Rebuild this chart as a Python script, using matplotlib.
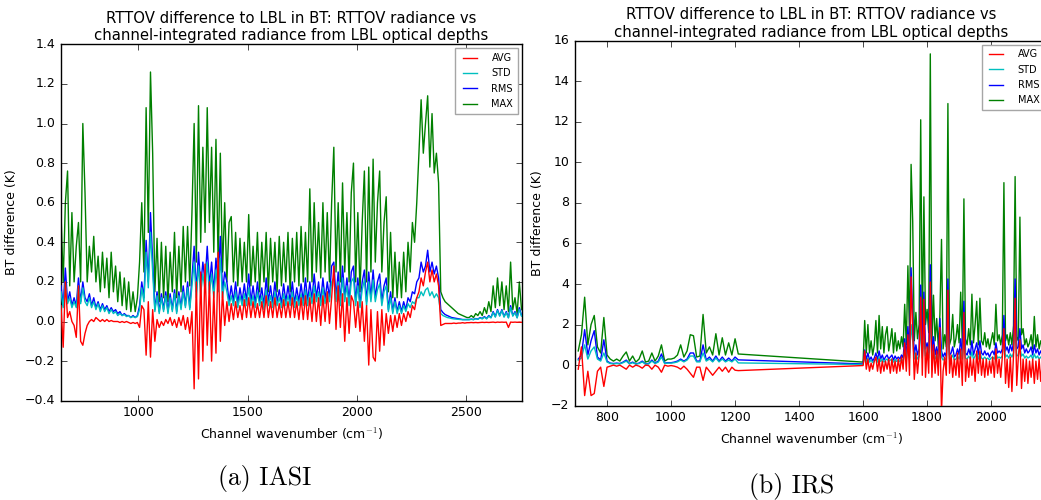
import numpy as np
import matplotlib
matplotlib.use('Agg')
import matplotlib.pyplot as plt

plt.style.use('classic')
plt.rcParams['figure.facecolor'] = 'white'
plt.rcParams['savefig.facecolor'] = 'white'

# IASI channels, one value every 10 cm-1 from 645 to 2755
iasi_wn = np.arange(645, 2760, 10)
iasi_max = [
    0.55, 0.2, 0.6, 0.76, 0.18, 0.55, 0.2, 0.38, 0.5, 0.2,
    1.0, 0.65, 0.2, 0.38, 0.25, 0.43, 0.2, 0.33, 0.15, 0.35,
    0.17, 0.32, 0.12, 0.35, 0.15, 0.28, 0.1, 0.25, 0.08, 0.22,
    0.06, 0.2, 0.05, 0.15, 0.05, 0.12, 0.3, 0.6, 0.25, 1.08,
    0.45, 1.26, 0.85, 0.15, 0.42, 0.1, 0.4, 0.12, 0.38, 0.1,
    0.35, 0.15, 0.45, 0.12, 0.38, 0.15, 0.48, 0.2, 0.48, 0.18,
    0.55, 1.0, 0.3, 1.09, 0.4, 0.88, 0.45, 1.08, 0.5, 0.88,
    0.35, 0.92, 0.3, 0.85, 0.25, 0.6, 0.2, 0.5, 0.53, 0.2,
    0.45, 0.18, 0.42, 0.2, 0.4, 0.2, 0.54, 0.18, 0.38, 0.2,
    0.45, 0.15, 0.4, 0.2, 0.45, 0.15, 0.42, 0.2, 0.4, 0.15,
    0.43, 0.18, 0.4, 0.2, 0.45, 0.15, 0.42, 0.2, 0.45, 0.18,
    0.48, 0.2, 0.45, 0.2, 0.67, 0.2, 0.6, 0.25, 0.5, 0.22,
    0.6, 0.25, 0.55, 0.2, 0.6, 0.88, 0.25, 0.6, 0.2, 0.7,
    0.25, 0.55, 0.2, 0.65, 0.8, 0.2, 0.55, 0.15, 0.5, 0.76,
    0.2, 0.78, 0.25, 0.82, 0.3, 0.6, 0.76, 0.25, 0.5, 0.63,
    0.15, 0.45, 0.12, 0.35, 0.12, 0.3, 0.12, 0.35, 0.15, 0.4,
    0.25, 0.5, 0.4, 0.6, 0.85, 1.12, 0.85, 1.0, 1.14, 0.78,
    1.05, 0.75, 0.85, 0.7, 0.15, 0.12, 0.1, 0.09, 0.08, 0.07,
    0.06, 0.05, 0.04, 0.035, 0.03, 0.025, 0.02, 0.02, 0.03, 0.02,
    0.04, 0.03, 0.05, 0.03, 0.07, 0.04, 0.1, 0.05, 0.18, 0.07,
    0.22, 0.08, 0.2, 0.06, 0.18, 0.05, 0.3, 0.06, 0.12, 0.04,
    0.2, 0.06,
]
iasi_rms = [
    0.18, 0.08, 0.27, 0.1, 0.15, 0.08, 0.12, 0.08, 0.22, 0.1,
    0.2, 0.12, 0.1, 0.14, 0.08, 0.12, 0.07, 0.1, 0.06, 0.09,
    0.06, 0.08, 0.05, 0.07, 0.05, 0.06, 0.04, 0.05, 0.03, 0.04,
    0.03, 0.03, 0.02, 0.03, 0.02, 0.03, 0.08, 0.2, 0.12, 0.41,
    0.2, 0.55, 0.3, 0.06, 0.15, 0.05, 0.14, 0.06, 0.15, 0.05,
    0.14, 0.06, 0.16, 0.05, 0.15, 0.07, 0.18, 0.08, 0.2, 0.07,
    0.22, 0.38, 0.15, 0.35, 0.18, 0.3, 0.2, 0.38, 0.18, 0.3,
    0.15, 0.32, 0.2, 0.43, 0.15, 0.25, 0.2, 0.1, 0.18, 0.1,
    0.2, 0.09, 0.17, 0.1, 0.19, 0.1, 0.24, 0.1, 0.18, 0.09,
    0.2, 0.1, 0.17, 0.08, 0.22, 0.1, 0.18, 0.09, 0.2, 0.1,
    0.16, 0.09, 0.19, 0.1, 0.18, 0.1, 0.2, 0.09, 0.17, 0.1,
    0.19, 0.1, 0.22, 0.1, 0.2, 0.11, 0.24, 0.12, 0.2, 0.1,
    0.22, 0.11, 0.2, 0.12, 0.28, 0.3, 0.12, 0.25, 0.1, 0.28,
    0.12, 0.22, 0.1, 0.25, 0.28, 0.1, 0.22, 0.08, 0.2, 0.26,
    0.1, 0.25, 0.12, 0.26, 0.12, 0.2, 0.24, 0.1, 0.18, 0.22,
    0.06, 0.15, 0.05, 0.12, 0.05, 0.1, 0.05, 0.1, 0.06, 0.12,
    0.1, 0.15, 0.14, 0.2, 0.22, 0.3, 0.25, 0.28, 0.36, 0.25,
    0.3, 0.24, 0.28, 0.22, 0.06, 0.045, 0.035, 0.03, 0.025, 0.02,
    0.018, 0.016, 0.014, 0.012, 0.01, 0.01, 0.01, 0.01, 0.012, 0.01,
    0.015, 0.012, 0.02, 0.015, 0.025, 0.015, 0.03, 0.02, 0.05, 0.025,
    0.06, 0.03, 0.06, 0.025, 0.05, 0.02, 0.08, 0.03, 0.05, 0.02,
    0.07, 0.03,
]
iasi_std = [
    0.15, 0.07, 0.2, 0.09, 0.12, 0.07, 0.1, 0.07, 0.18, 0.09,
    0.17, 0.1, 0.08, 0.12, 0.07, 0.1, 0.06, 0.09, 0.05, 0.08,
    0.05, 0.07, 0.04, 0.06, 0.04, 0.05, 0.03, 0.04, 0.03, 0.035,
    0.025, 0.03, 0.02, 0.025, 0.02, 0.025, 0.06, 0.17, 0.1, 0.35,
    0.17, 0.45, 0.25, 0.05, 0.13, 0.04, 0.12, 0.05, 0.13, 0.04,
    0.12, 0.05, 0.14, 0.04, 0.13, 0.06, 0.15, 0.07, 0.17, 0.06,
    0.18, 0.3, 0.12, 0.28, 0.14, 0.24, 0.16, 0.3, 0.14, 0.24,
    0.12, 0.26, 0.15, 0.32, 0.12, 0.2, 0.15, 0.08, 0.13, 0.08,
    0.15, 0.07, 0.13, 0.08, 0.14, 0.08, 0.17, 0.08, 0.13, 0.07,
    0.15, 0.08, 0.13, 0.06, 0.16, 0.08, 0.13, 0.07, 0.15, 0.08,
    0.12, 0.07, 0.14, 0.08, 0.13, 0.08, 0.15, 0.07, 0.13, 0.08,
    0.14, 0.08, 0.16, 0.08, 0.15, 0.09, 0.18, 0.1, 0.15, 0.08,
    0.17, 0.09, 0.15, 0.1, 0.2, 0.22, 0.1, 0.2, 0.08, 0.22,
    0.1, 0.18, 0.08, 0.2, 0.22, 0.08, 0.18, 0.07, 0.16, 0.21,
    0.08, 0.2, 0.1, 0.21, 0.1, 0.16, 0.19, 0.08, 0.15, 0.18,
    0.05, 0.12, 0.04, 0.1, 0.04, 0.08, 0.04, 0.08, 0.05, 0.09,
    0.07, 0.1, 0.09, 0.12, 0.12, 0.15, 0.13, 0.16, 0.17, 0.13,
    0.15, 0.12, 0.14, 0.12, 0.04, 0.03, 0.025, 0.02, 0.018, 0.015,
    0.013, 0.012, 0.011, 0.01, 0.009, 0.009, 0.009, 0.009, 0.011, 0.009,
    0.014, 0.011, 0.018, 0.013, 0.022, 0.013, 0.027, 0.018, 0.045, 0.022,
    0.055, 0.027, 0.055, 0.022, 0.045, 0.018, 0.07, 0.027, 0.045, 0.018,
    0.06, 0.027,
]
iasi_avg = [
    0.08, -0.13, 0.2, 0.02, 0.05, 0.0, -0.02, -0.08, 0.18, -0.1,
    -0.12, -0.06, -0.02, 0.0, 0.01, 0.0, 0.02, 0.01, 0.0, 0.01,
    0.0, 0.01, 0.0, 0.005, 0.0, 0.0, 0.0, -0.005, 0.0, -0.005,
    0.0, -0.005, -0.01, -0.005, -0.01, -0.005, -0.03, 0.08, 0.06, -0.17,
    0.1, -0.18, 0.06, -0.1, 0.01, -0.03, 0.0, -0.02, 0.01, -0.01,
    0.02, -0.02, 0.01, -0.03, 0.02, -0.02, 0.03, -0.04, 0.02, -0.06,
    0.05, -0.34, 0.2, -0.29, 0.25, -0.2, 0.29, -0.12, 0.2, -0.2,
    0.15, -0.16, 0.35, -0.1, 0.15, -0.02, 0.1, 0.0, 0.09, 0.01,
    0.1, 0.02, 0.08, 0.01, 0.11, 0.02, 0.12, 0.02, 0.1, 0.02,
    0.09, 0.02, 0.1, 0.02, 0.13, 0.02, 0.1, 0.02, 0.12, 0.02,
    0.09, 0.02, 0.11, 0.02, 0.1, 0.02, 0.12, 0.02, 0.1, 0.01,
    0.12, 0.01, 0.13, 0.01, 0.12, 0.0, 0.14, 0.0, 0.12, -0.02,
    0.13, 0.0, 0.15, -0.01, 0.12, 0.28, -0.04, 0.18, -0.03, 0.14,
    -0.1, 0.12, -0.06, 0.13, 0.1, -0.03, 0.1, -0.05, 0.1, -0.1,
    0.08, -0.22, 0.06, -0.18, -0.2, 0.05, -0.15, 0.06, -0.12, 0.04,
    -0.06, 0.03, -0.05, 0.03, -0.03, 0.04, -0.02, 0.04, 0.0, 0.05,
    0.02, 0.08, 0.06, 0.12, 0.15, 0.22, 0.18, 0.25, 0.3, 0.2,
    0.26, 0.2, 0.24, 0.18, -0.02, -0.015, -0.01, -0.01, -0.01, -0.01,
    -0.008, -0.01, -0.008, -0.008, -0.006, -0.008, -0.006, -0.006, -0.005, -0.006,
    -0.005, -0.006, -0.005, -0.004, -0.005, -0.004, -0.005, -0.004, -0.003, -0.005,
    -0.003, -0.004, -0.003, -0.004, -0.003, -0.03, -0.003, -0.004, -0.003, -0.004,
    -0.003, -0.004,
]

# IRS channels: 710-1210 every 10 cm-1, then 1600-2190 every 5 cm-1
irs_wn = np.concatenate([np.arange(710, 1211, 10), np.arange(1600, 2191, 5)])
irs_max = [
    0.7, 1.5, 3.35, 1.0, 2.0, 2.45, 0.9, 0.6, 2.35, 0.5,
    0.3, 0.2, 0.3, 0.2, 0.45, 0.65, 0.2, 0.45, 0.15, 0.3,
    0.7, 0.15, 0.2, 0.6, 0.2, 0.45, 1.0, 0.2, 0.3, 0.3,
    0.35, 0.5, 1.0, 0.4, 0.7, 1.5, 1.45, 0.4, 0.45, 2.5,
    0.6, 0.9, 0.5, 1.55, 0.5, 1.35, 0.5, 1.1, 0.5, 1.3,
    0.55,
    # 1600 onwards
    0.15, 2.2, 0.6, 2.0, 0.6, 1.2, 0.5, 1.0, 2.2, 0.6,
    2.45, 0.8, 1.9, 0.6, 1.5, 1.9, 0.7, 1.2, 1.8, 0.6,
    1.6, 0.7, 1.2, 0.8, 1.4, 0.9, 3.0, 1.0, 4.9, 1.5,
    9.9, 7.1, 1.2, 2.6, 1.3, 2.0, 12.1, 1.5, 8.3, 2.0,
    2.75, 1.6, 15.35, 1.0, 3.45, 1.2, 2.3, 0.9, 2.5, 6.2,
    0.8, 1.5, 0.9, 12.9, 1.0, 1.3, 2.5, 0.9, 1.3, 2.0,
    1.1, 3.6, 1.0, 8.2, 1.3, 1.0, 1.8, 1.0, 3.5, 1.1,
    2.0, 3.15, 1.0, 3.3, 1.2, 1.0, 1.6, 0.9, 1.3, 0.8,
    1.2, 1.6, 1.0, 3.0, 1.2, 1.5, 1.0, 1.5, 9.0, 1.2,
    1.5, 1.0, 1.6, 1.0, 1.95, 9.3, 1.4, 1.2, 7.3, 1.5,
    1.8, 1.0, 1.3, 0.9, 1.1, 1.5, 0.8, 2.4, 0.9, 1.5,
    0.8, 1.2, 0.9, 1.3, 0.8, 1.2, 0.9, 1.1, 0.8,
]
irs_rms = [
    0.3, 0.5, 1.75, 0.5, 1.2, 1.7, 0.4, 0.25, 1.25, 0.2,
    0.1, 0.08, 0.1, 0.08, 0.15, 0.25, 0.08, 0.15, 0.06, 0.1,
    0.2, 0.06, 0.08, 0.25, 0.1, 0.2, 0.55, 0.1, 0.12, 0.12,
    0.15, 0.2, 0.3, 0.2, 0.3, 0.6, 0.6, 0.2, 0.2, 1.0,
    0.25, 0.4, 0.2, 0.45, 0.2, 0.4, 0.2, 0.35, 0.2, 0.4,
    0.26,
    0.06, 0.75, 0.25, 0.6, 0.25, 0.4, 0.2, 0.35, 0.6, 0.25,
    0.7, 0.3, 0.5, 0.25, 0.4, 0.5, 0.3, 0.4, 0.5, 0.25,
    0.45, 0.3, 0.4, 0.3, 0.5, 0.35, 1.3, 0.4, 1.9, 0.6,
    4.8, 2.4, 0.5, 1.0, 0.5, 0.8, 3.95, 0.6, 3.6, 0.8,
    1.1, 0.6, 4.95, 0.5, 1.4, 0.5, 0.9, 0.4, 2.3, 0.7,
    0.4, 0.6, 0.4, 4.25, 0.5, 0.6, 0.9, 0.4, 0.5, 0.8,
    0.5, 1.3, 0.5, 3.15, 0.6, 0.5, 0.8, 0.5, 1.2, 0.5,
    0.8, 1.1, 0.5, 1.2, 0.6, 0.5, 0.7, 0.5, 0.6, 0.4,
    0.6, 0.7, 0.5, 1.1, 0.6, 0.7, 0.6, 0.8, 2.45, 0.7,
    0.9, 0.6, 1.0, 0.7, 1.1, 4.25, 0.8, 0.9, 1.8, 0.8,
    1.0, 0.6, 0.8, 0.6, 0.7, 0.9, 0.5, 1.0, 0.6, 0.8,
    0.5, 0.7, 0.5, 0.8, 0.5, 0.7, 0.5, 0.7, 0.5,
]
irs_std = [
    0.25, 0.35, 1.0, 0.3, 0.7, 0.9, 0.3, 0.2, 0.6, 0.15,
    0.08, 0.06, 0.08, 0.06, 0.12, 0.2, 0.06, 0.12, 0.05, 0.08,
    0.16, 0.05, 0.06, 0.2, 0.08, 0.15, 0.4, 0.08, 0.1, 0.1,
    0.12, 0.16, 0.25, 0.16, 0.25, 0.45, 0.45, 0.16, 0.16, 0.6,
    0.2, 0.3, 0.16, 0.35, 0.16, 0.3, 0.16, 0.25, 0.16, 0.3,
    0.11,
    0.03, 0.4, 0.15, 0.35, 0.15, 0.25, 0.12, 0.2, 0.35, 0.15,
    0.4, 0.18, 0.3, 0.15, 0.25, 0.3, 0.18, 0.25, 0.3, 0.15,
    0.28, 0.18, 0.25, 0.18, 0.3, 0.2, 0.7, 0.25, 1.0, 0.35,
    2.0, 1.2, 0.3, 0.6, 0.3, 0.45, 1.9, 0.35, 1.5, 0.45,
    0.6, 0.35, 2.3, 0.3, 0.7, 0.3, 0.5, 0.25, 1.2, 0.4,
    0.25, 0.35, 0.25, 2.0, 0.3, 0.35, 0.5, 0.25, 0.3, 0.45,
    0.3, 0.7, 0.3, 1.5, 0.35, 0.3, 0.45, 0.3, 0.65, 0.3,
    0.45, 0.6, 0.3, 0.65, 0.35, 0.3, 0.4, 0.3, 0.35, 0.25,
    0.35, 0.4, 0.3, 0.6, 0.35, 0.4, 0.35, 0.45, 1.2, 0.4,
    0.5, 0.35, 0.55, 0.4, 0.6, 2.0, 0.45, 0.5, 0.9, 0.45,
    0.55, 0.35, 0.45, 0.35, 0.4, 0.5, 0.3, 0.55, 0.35, 0.45,
    0.3, 0.4, 0.3, 0.45, 0.3, 0.4, 0.3, 0.4, 0.3,
]
irs_avg = [
    -0.2, 0.9, -1.5, -0.3, -1.5, -1.4, -0.3, -0.1, -1.05, -0.1,
    -0.05, 0.0, -0.05, 0.0, -0.1, -0.2, 0.0, -0.1, 0.0, -0.05,
    -0.15, 0.0, -0.02, -0.2, 0.0, -0.1, -0.35, 0.0, -0.05, -0.02,
    -0.05, -0.1, -0.2, -0.05, -0.2, -0.4, -0.6, -0.1, -0.1, -0.75,
    -0.1, -0.3, -0.5, -0.3, -0.1, -0.3, -0.1, -0.35, -0.1, -0.25,
    -0.27,
    -0.02, 0.7, -0.2, 0.3, -0.3, 0.1, -0.2, 0.2, 0.4, -0.3,
    0.3, -0.4, 0.2, -0.3, 0.2, -0.2, 0.3, -0.4, 0.3, -0.3,
    0.2, -0.4, 0.3, -0.3, 0.4, -0.2, 1.1, -0.3, 1.5, -0.5,
    4.35, 1.7, -0.7, 0.6, -0.4, 0.5, 3.35, -0.5, 3.25, -0.6,
    0.9, -0.4, 4.1, -0.6, 1.0, -0.4, 0.7, -0.5, 1.85, -2.3,
    -0.3, 0.4, -0.5, 3.7, -0.4, 0.5, -0.6, 0.3, -0.5, 0.6,
    -0.6, 0.8, -1.0, 2.6, -0.8, 0.3, -0.6, 0.4, -0.5, 0.3,
    -0.8, 0.7, -0.4, 0.7, -0.5, 0.3, -0.6, 0.3, -0.5, 0.2,
    -0.4, 0.4, -0.6, 0.8, -0.4, 0.3, -0.6, 0.4, 1.8, -0.9,
    0.3, -1.1, 0.4, -1.3, 0.5, 3.3, -1.0, 0.4, 1.25, -1.15,
    0.3, -0.8, 0.3, -0.9, 0.2, -0.6, 0.3, -0.9, 0.2, -0.7,
    0.3, -0.8, 0.2, -0.6, 0.3, -0.7, 0.2, -0.5, 0.2,
]

title = 'RTTOV difference to LBL in BT: RTTOV radiance vs\nchannel-integrated radiance from LBL optical depths'


def draw_panel(ax, wn, avg, std, rms, mx):
    # red on top, green at the back, legend keeps AVG/STD/RMS/MAX order
    ax.plot(wn, avg, color='r', lw=1.0, label='AVG', zorder=5)
    ax.plot(wn, std, color='c', lw=1.0, label='STD', zorder=4)
    ax.plot(wn, rms, color='b', lw=1.0, label='RMS', zorder=3)
    ax.plot(wn, mx, color='g', lw=1.0, label='MAX', zorder=2)
    ax.set_title(title, fontsize=10.7, pad=3)
    ax.set_xlabel('Channel wavenumber (cm$^{-1}$)', fontsize=9)
    ax.set_ylabel('BT difference (K)', fontsize=9)
    ax.tick_params(labelsize=9)
    leg = ax.legend(loc='upper right', fontsize=7, handlelength=2.0,
                    borderaxespad=0.4, labelspacing=0.55, borderpad=0.5,
                    handletextpad=1.2)
    leg.get_frame().set_edgecolor('0.65')


fig = plt.figure(figsize=(10.41, 5.0), dpi=100)

ax1 = fig.add_axes([0.0586, 0.1986, 0.4428, 0.7128])
draw_panel(ax1, iasi_wn, iasi_avg, iasi_std, iasi_rms, iasi_max)
ax1.set_xlim(645, 2757)
ax1.set_ylim(-0.4, 1.4)
ax1.set_xticks([1000, 1500, 2000, 2500])
ax1.set_yticks(np.arange(-0.4, 1.41, 0.2))

ax2 = fig.add_axes([0.5524, 0.1886, 0.4544, 0.730])
draw_panel(ax2, irs_wn, irs_avg, irs_std, irs_rms, irs_max)
ax2.set_xlim(700, 2178)
ax2.set_ylim(-2, 16)
ax2.set_xticks(np.arange(800, 2001, 200))
ax2.set_yticks(np.arange(-2, 17, 2))

fig.text(0.2545, 0.044, '(a) IASI', family='cmr10', fontsize=18.5, ha='center', va='center')
fig.text(0.760, 0.028, '(b) IRS', family='cmr10', fontsize=18.5, ha='center', va='center')

fig.savefig('out.png', dpi=100)
